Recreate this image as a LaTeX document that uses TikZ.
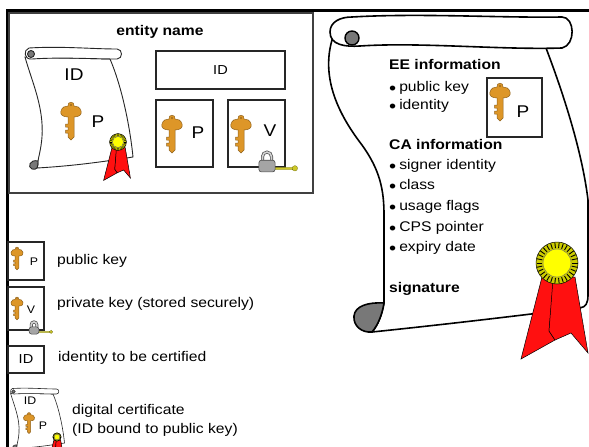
\documentclass[tikz,border=0pt]{standalone}
\usepackage{fontspec}
\setmainfont{Liberation Sans}[FakeStretch=1.12]
\usetikzlibrary{positioning}

\definecolor{keygold}{RGB}{221,150,40}
\definecolor{ribbonred}{RGB}{255,16,16}
\definecolor{sealyellow}{RGB}{255,255,0}
\definecolor{curlgray}{RGB}{120,120,120}
\definecolor{lockgray}{RGB}{165,165,165}
\definecolor{lockkey}{RGB}{205,200,40}

\newcommand{\blt}{\raisebox{-2.5pt}{\fontsize{18}{16}\selectfont•}\hspace{3pt}}

\begin{document}
\begin{tikzpicture}[x=1pt, y=-1pt,
    every node/.style={inner sep=0pt, font=\fontsize{14}{16}\selectfont},
    txt/.style={anchor=west, text height=10pt, text depth=3pt},
    headline/.style={txt, font=\fontsize{14}{16}\selectfont\bfseries},
    keylabel/.style={font=\fontsize{17}{19}\selectfont},
    minilabel/.style={font=\fontsize{11}{12}\selectfont},
    framebox/.style={draw=black!85, line width=1.6pt},
    sheet/.style={fill=white, draw=black!85, line width=0.9pt},
    tooth/.style={line width=0.9pt},
    key/.pic={
      \fill[keygold, draw=keygold!65!black, line width=0.5pt]
        (-3,5) -- (-3,12) -- (-5.5,12) -- (-5.5,15) -- (-3,15) -- (-3,18)
        -- (-5.5,18) -- (-5.5,21) -- (-3,21) -- (-3,25) -- (0,28) -- (3,25) -- (3,5)
        .. controls (9,5) and (11,2) .. (10,-1) .. controls (9,-5) and (6,-6) .. (3,-6)
        .. controls (4,-11) and (-4,-11) .. (-3,-6)
        .. controls (-6,-6) and (-9,-5) .. (-10,-1) .. controls (-11,2) and (-9,5) .. (-3,5) -- cycle;
      \fill[keygold!70!black] (0,-7) circle (1.2);
    },
    seal/.pic={
      \filldraw[fill=ribbonred, draw=black, line width=0.5pt]
        (-15,14) -- (-3,16) -- (-8,68) -- (-2,77) -- (-36,96) -- cycle;
      \filldraw[fill=ribbonred, draw=black, line width=0.5pt]
        (-4,16) -- (18,14) -- (31,90) -- (14,70) -- (-2,77) -- (-8,68) -- cycle;
      \filldraw[fill=sealyellow!80!black, draw=black, line width=0.5pt] (0,0) circle (21);
      \foreach \a in {0,12,...,348}
        \draw[tooth] (\a:15) -- (\a:20.5);
      \filldraw[fill=sealyellow, draw=black!60, line width=0.4pt] (0,0) circle (14);
    },
    lock/.pic={
      \filldraw[fill=lockkey, draw=lockkey!60!black, line width=0.3pt]
        (8,6) rectangle (28,8.5) (31,7) circle (3);
      \draw[black!70, line width=3pt] (-5,-1) -- (-5,-6) arc (180:360:5) -- (5,-1);
      \draw[lockgray!50!white, line width=1.6pt] (-5,-1) -- (-5,-6) arc (180:360:5) -- (5,-1);
      \filldraw[fill=lockgray, draw=black!70, line width=0.6pt, rounded corners=2.5pt]
        (-9,-2) rectangle (9,11);
    },
    scroll/.pic={
      % sheet
      \filldraw[sheet]
        (3,10) .. controls (10,35) and (22,60) .. (20,90)
        .. controls (19,102) and (17,108) .. (16,114)
        .. controls (16,117) and (16,119) .. (15,121)
        .. controls (50,119) and (80,115) .. (111,110)
        .. controls (108,80) and (100,40) .. (88,12) -- cycle;
      % lower curl
      \filldraw[sheet, fill=curlgray]
        (16,114) .. controls (8,112) and (5,120) .. (10,122)
        .. controls (12,123) and (14,122) .. (15,121)
        .. controls (16,119) and (16,117) .. (16,114) -- cycle;
      % upper roll
      \filldraw[sheet]
        (7,1) .. controls (40,-1) and (70,2) .. (95,2)
        .. controls (101,2) and (101,12) .. (95,12)
        .. controls (70,12) and (40,10) .. (10,12)
        .. controls (2,13) and (1,3) .. (7,1) -- cycle;
      \filldraw[sheet, fill=curlgray] (9,7) circle (3.5);
    }]
    \useasboundingbox[fill=white] (0,0) rectangle (589,447);

    % Frame lines
    \draw[line width=3pt] (6,10) -- (589,10);
    \draw[line width=3pt] (7,10) -- (7,447);

    % Entity box
    \draw[framebox, draw=black!75, line width=2.2pt] (9,13) rectangle (313,193);
    \node[headline, anchor=center] (entity) at (160,32) {entity name};

    % Certificate held by the entity
    \pic at (22,47) {scroll};
    \node[keylabel] (certid) at (74,75) {ID};
    \pic at (71,112) {key};
    \node[keylabel] (certp) at (98,122) {P};
    \pic[scale=0.4, tooth/.style={line width=0.35pt}] at (118,142) {seal};

    % Identity, public and private key
    \node[framebox, minimum width=129pt, minimum height=38pt,
          font=\fontsize{13}{15}\selectfont] (idbox) at (220.5,70) {ID};
    \node[framebox, minimum width=57pt, minimum height=67pt] (pubbox) at (184.5,133.5) {};
    \pic at (172,125) {key};
    \node[keylabel] (publab) at (198,133) {P};
    \node[framebox, minimum width=57pt, minimum height=67pt] (privbox) at (256.5,133.5) {};
    \pic at (241,125) {key};
    \node[keylabel] (privlab) at (270,131) {V};
    \pic[scale=0.9] at (267,162) {lock};

    % Large certificate
    \filldraw[fill=white, draw=black, line width=1.6pt]
      (332,40) .. controls (322,75) and (335,110) .. (362,145)
      .. controls (380,170) and (384,190) .. (384,215) -- (384,303)
      .. controls (382,315) and (378,325) .. (372,332)
      .. controls (430,326) and (500,318) .. (580,308)
      .. controls (586,307) and (588,303) .. (588,295) -- (588,200)
      .. controls (582,150) and (562,90) .. (546,48) -- cycle;
    \filldraw[fill=curlgray, draw=black, line width=1.6pt]
      (384,303) .. controls (368,302) and (355,306) .. (354,316)
      .. controls (353,326) and (362,333) .. (372,332)
      .. controls (378,325) and (382,315) .. (384,303) -- cycle;
    \filldraw[fill=white, draw=black, line width=1.6pt]
      (352,17) .. controls (420,13) and (500,18) .. (562,17)
      .. controls (575,17) and (576,45) .. (562,48)
      .. controls (500,50) and (420,42) .. (360,46)
      .. controls (345,47) and (330,45) .. (330,32)
      .. controls (330,22) and (340,17) .. (352,17) -- cycle;
    \filldraw[fill=curlgray, draw=black, line width=1.4pt] (352,38) circle (7);

    \node[headline] (ee) at (389,66) {EE information};
    \node[txt] (ee1) at (389,88) {\blt public key};
    \node[txt] (ee2) at (389,106) {\blt identity};
    \node[framebox, line width=1.4pt, minimum width=55pt, minimum height=59pt] (certbox) at (514.5,107.5) {};
    \pic at (500,93) {key};
    \node[keylabel] (certkey) at (523,112) {P};

    \node[headline] (ca) at (389,146) {CA information};
    \node[txt] (ca1) at (389,166) {\blt signer identity};
    \node[txt] (ca2) at (389,186) {\blt class};
    \node[txt] (ca3) at (389,207) {\blt usage flags};
    \node[txt] (ca4) at (389,228) {\blt CPS pointer};
    \node[txt] (ca5) at (389,248) {\blt expiry date};
    \node[headline] (sig) at (389,289) {signature};
    \pic at (557,263) {seal};

    % Legend
    \node[framebox, minimum width=36pt, minimum height=38pt] (legpub) at (26,261) {};
    \pic[scale=0.6] at (17,253) {key};
    \node[minilabel] at (34,262) {P};
    \node[txt] (legpubtxt) at (57,261) {public key};

    \node[framebox, minimum width=36pt, minimum height=43pt] (legpriv) at (26,308.5) {};
    \pic[scale=0.6] at (17,303) {key};
    \node[minilabel] at (31,310) {V};
    \pic[scale=0.55] at (34,328) {lock};
    \node[txt] (legprivtxt) at (57,304) {private key (stored securely)};

    \node[framebox, minimum width=36pt, minimum height=27pt,
          font=\fontsize{13}{15}\selectfont] (legid) at (26,359.5) {ID};
    \node[txt] (legidtxt) at (58,358) {identity to be certified};

    \pic[scale=0.5, sheet/.append style={line width=0.6pt}] at (9,388) {scroll};
    \node[minilabel] at (30,401) {ID};
    \pic[scale=0.55] at (29,418) {key};
    \node[minilabel] at (43,426) {P};
    \pic[scale=0.2, tooth/.style={line width=0.2pt}] at (57,437) {seal};
    \node[txt] (legcert1) at (72,411) {digital certificate};
    \node[txt] (legcert2) at (72,430) {(ID bound to public key)};
\end{tikzpicture}
\end{document}
